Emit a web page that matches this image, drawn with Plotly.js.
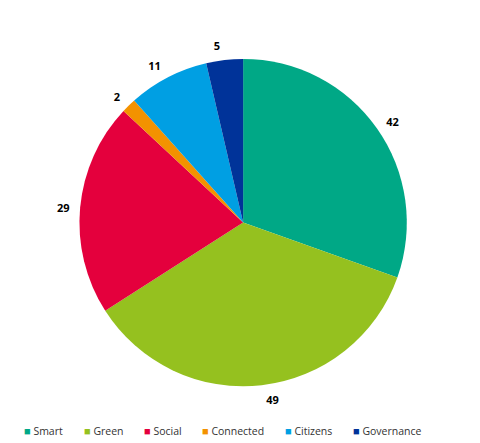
<!DOCTYPE html>
<html>
<head>
<meta charset="utf-8">
<script src="https://cdn.plot.ly/plotly-3.0.1.min.js"></script>
<style>
  html, body { margin: 0; padding: 0; background: #fff; }
  #chart { width: 480px; height: 443px; }
</style>
</head>
<body>
<div id="chart"></div>
<script>
const categories = ["Smart", "Green", "Social", "Connected", "Citizens", "Governance"];
const counts = [42, 49, 29, 2, 11, 5];
const sliceColors = ["#00a886", "#95c11f", "#e4003d", "#f39200", "#009fe3", "#003399"];

// legend entries are drawn as annotations so they stay on one row
const legendLeft = [22, 82, 142, 200, 283, 351];   // px from left
const legendY = 430;                                // px from top
const W = 480, H = 443;

const pie = {
    type: "pie",
    labels: categories,
    values: counts,
    sort: false,
    direction: "clockwise",
    rotation: 0,
    marker: {colors: sliceColors, line: {width: 0}},
    textinfo: "none",
    automargin: false,
    domain: {x: [0.16, 0.853], y: [0.128, 0.867]},
    showlegend: false,
    hoverinfo: "label+value"
};

// transparent copy, a bit larger, only to carry the outside value labels
const labelRing = {
    type: "pie",
    labels: categories,
    values: counts,
    sort: false,
    direction: "clockwise",
    rotation: 0,
    marker: {colors: categories.map(() => "rgba(0,0,0,0)"), line: {width: 0}},
    textinfo: "value",
    textposition: "outside",
    outsidetextfont: {family: "Open Sans", size: 11, color: "#000", weight: "bold"},
    automargin: false,
    domain: {x: [0.14, 0.873], y: [0.1125, 0.8825]},
    showlegend: false,
    hoverinfo: "skip"
};

const legendNotes = categories.map((name, i) => ({
    xref: "paper",
    yref: "paper",
    x: legendLeft[i] / W,
    y: 1 - legendY / H,
    xanchor: "left",
    yanchor: "middle",
    showarrow: false,
    align: "left",
    text: `<span style="color:${sliceColors[i]};font-size:11px">■</span> ${name}`,
    font: {family: "Open Sans", size: 10.5, color: "#333"}
}));

const layout = {
    width: W,
    height: H,
    margin: {l: 0, r: 0, t: 0, b: 0},
    paper_bgcolor: "#fff",
    font: {family: "Open Sans", size: 11, color: "#333"},
    showlegend: false,
    annotations: legendNotes
};

Plotly.newPlot("chart", [pie, labelRing], layout, {staticPlot: true});
</script>
</body>
</html>
